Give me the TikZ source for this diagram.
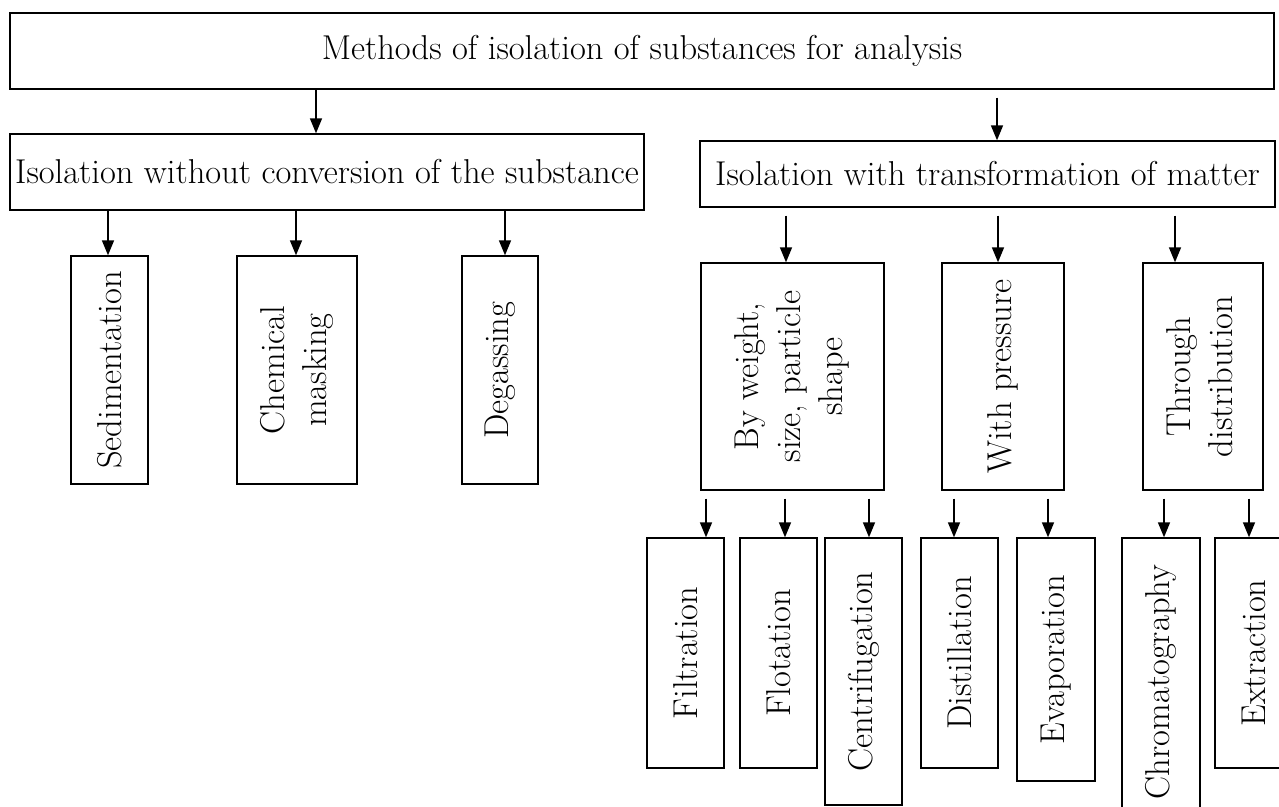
\documentclass[tikz,border=0pt]{standalone}
\usepackage{graphicx}
\usepackage{tikz}
\usetikzlibrary{arrows.meta}

\begin{document}
\begin{tikzpicture}[x=1pt,y=-1pt,
  blockbox/.style={draw,line width=1.4pt,inner sep=0pt,align=center,
    font=\fontsize{34.5}{42}\selectfont},
  arrowline/.style={line width=1.6pt,-{Triangle[length=15pt,width=12pt]}}]

\useasboundingbox (0,0) rectangle (1279,806);
\clip (0,0) rectangle (1279,806);

% top and second level
\node[blockbox,minimum width=1264pt,minimum height=76pt] (methods) at (642,51) {Methods of isolation of substances for analysis};
\node[blockbox,minimum width=634pt,minimum height=76pt] (without) at (327,172) {Isolation without conversion of the substance};
\node[blockbox,minimum width=575pt,minimum height=66pt] (with) at (987.5,174) {Isolation with transformation of matter};

% without conversion
\node[blockbox,minimum width=77pt,minimum height=228pt] (sedim) at (109.5,370) {\rotatebox{90}{Sedimentation}};
\node[blockbox,minimum width=120pt,minimum height=228pt] (masking) at (297,370) {\rotatebox{90}{\begin{tabular}{@{}c@{}}Chemical\\masking\end{tabular}}};
\node[blockbox,minimum width=76pt,minimum height=228pt] (degas) at (500,370) {\rotatebox{90}{Degassing}};

% with transformation
\node[blockbox,minimum width=183pt,minimum height=227pt] (weight) at (792.5,376.5) {\rotatebox{90}{\begin{tabular}{@{}c@{}}By weight,\\size, particle\\shape\end{tabular}}};
\node[blockbox,minimum width=122pt,minimum height=227pt] (pressure) at (1003,376.5) {\rotatebox{90}{With pressure}};
\node[blockbox,minimum width=120pt,minimum height=227pt] (distrib) at (1203,376.5) {\rotatebox{90}{\begin{tabular}{@{}c@{}}Through\\distribution\end{tabular}}};

% bottom row
\node[blockbox,minimum width=77pt,minimum height=230pt] (filtr) at (685.5,653) {\rotatebox{90}{Filtration}};
\node[blockbox,minimum width=77pt,minimum height=230pt] (flotat) at (778.5,653) {\rotatebox{90}{Flotation}};
\node[blockbox,minimum width=77pt,minimum height=267pt] (centrif) at (863.5,671.5) {\rotatebox{90}{Centrifugation}};
\node[blockbox,minimum width=77pt,minimum height=230pt] (distil) at (959.5,653) {\rotatebox{90}{Distillation}};
\node[blockbox,minimum width=78pt,minimum height=243pt] (evapor) at (1056,659.5) {\rotatebox{90}{Evaporation}};
\node[blockbox,minimum width=78pt,minimum height=288pt] (chromat) at (1161,682) {\rotatebox{90}{Chromatography}};
\node[blockbox,minimum width=77pt,minimum height=230pt] (extract) at (1253.5,653) {\rotatebox{90}{Extraction}};

% arrows
\draw[arrowline] (methods.south -| 316,0) -- (without.north -| 316,0);
\draw[arrowline,shorten <=8pt] (methods.south -| 997,0) -- (with.north -| 997,0);
\foreach \from/\to/\xpos in {without/sedim/108,without/masking/296,without/degas/505}
  \draw[arrowline] (\from.south -| \xpos,0) -- (\to.north -| \xpos,0);
\foreach \from/\to/\xpos in {with/weight/786,with/pressure/998,with/distrib/1175,
    weight/filtr/706,weight/flotat/785,weight/centrif/869,
    pressure/distil/954,pressure/evapor/1048,
    distrib/chromat/1164,distrib/extract/1249}
  \draw[arrowline,shorten <=8pt] (\from.south -| \xpos,0) -- (\to.north -| \xpos,0);

\end{tikzpicture}
\end{document}
